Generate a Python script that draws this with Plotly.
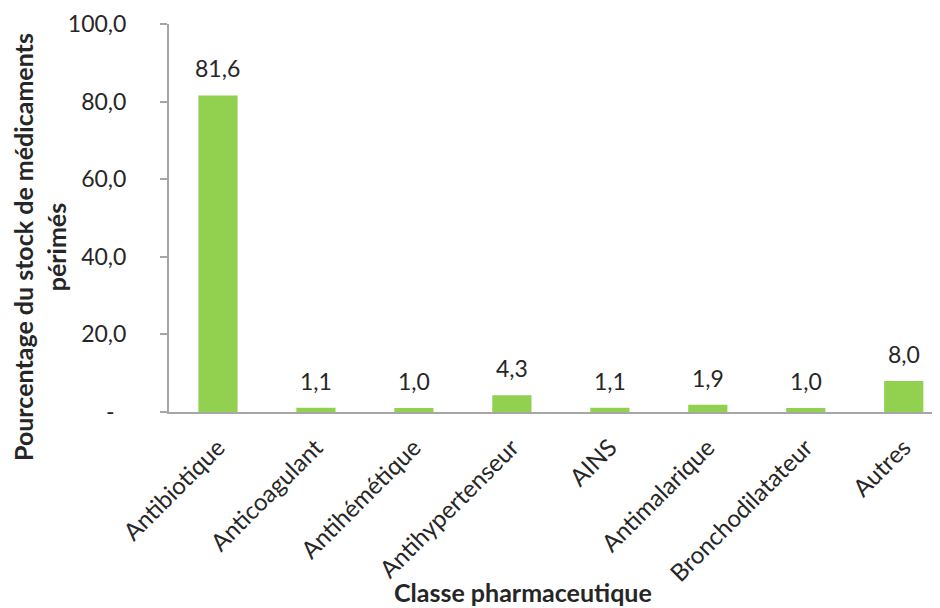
import plotly.graph_objects as go

categories = ["Antibiotique", "Anticoagulant", "Antihémétique", "Antihypertenseur",
              "AINS", "Antimalarique", "Bronchodilatateur", "Autres"]
values = [81.6, 1.1, 1.0, 4.3, 1.1, 1.9, 1.0, 8.0]
y_tickvals = [0, 20, 40, 60, 80, 100]
y_ticktext = ["-\u00a0\u00a0", "20,0", "40,0", "60,0", "80,0", "100,0"]

labels = [f"{v:.1f}".replace(".", ",") for v in values]
FONT = "Lato, Open Sans, sans-serif"
TXT = "#262626"
OFF = 8  # page body margin offset
W, H = 940 - OFF, 608 - OFF
X0, Y0, YT = 169, 412, 24  # plot origin / top in screen px
L, R, T, B = X0 - OFF, 0, YT - OFF, 608 - Y0
PW, PH = W - L - R, H - T - B

fig = go.Figure(go.Bar(
    x=categories, y=values,
    marker=dict(color="#92D050", line=dict(width=0)),
    width=0.4,
))

annotations = [
    dict(x=c, y=v, text=t, xref="x", yref="y", yanchor="bottom", yshift=11,
         showarrow=False, font=dict(size=23, color=TXT, family=FONT))
    for c, v, t in zip(categories, values, labels)
]
annotations += [
    dict(text="<b>Pourcentage du stock de médicaments<br>périmés</b>", textangle=-90,
         xref="paper", yref="paper", x=(40 - X0) / PW, xanchor="center",
         y=(Y0 - 247) / PH, yanchor="middle", showarrow=False,
         font=dict(size=25, color=TXT, family=FONT)),
    dict(text="<b>Classe pharmaceutique</b>", xref="paper", yref="paper",
         x=(523 - X0) / PW, y=-(592 - Y0) / PH, xanchor="center", yanchor="middle",
         showarrow=False, font=dict(size=25, color=TXT, family=FONT)),
]

fig.update_layout(
    width=W, height=H,
    margin=dict(l=L, r=R, t=T, b=B),
    paper_bgcolor="white", plot_bgcolor="white",
    showlegend=False,
    font=dict(family=FONT, size=23, color=TXT),
    xaxis=dict(range=[-0.5, 7.37], tickangle=-45, showline=True, linecolor="#A6A6A6",
               linewidth=2, ticks="", showgrid=False, tickfont=dict(size=24, color=TXT),
               ticklabelstandoff=10),
    yaxis=dict(range=[0, 100], tickvals=y_tickvals, ticktext=y_ticktext,
               showline=True, linecolor="#A6A6A6", linewidth=2, ticks="outside",
               ticklen=7, tickcolor="#A6A6A6", tickwidth=2, showgrid=False, zeroline=False,
               tickfont=dict(size=23, color=TXT), ticklabelstandoff=29),
    annotations=annotations,
)

fig.write_html("out.html")
